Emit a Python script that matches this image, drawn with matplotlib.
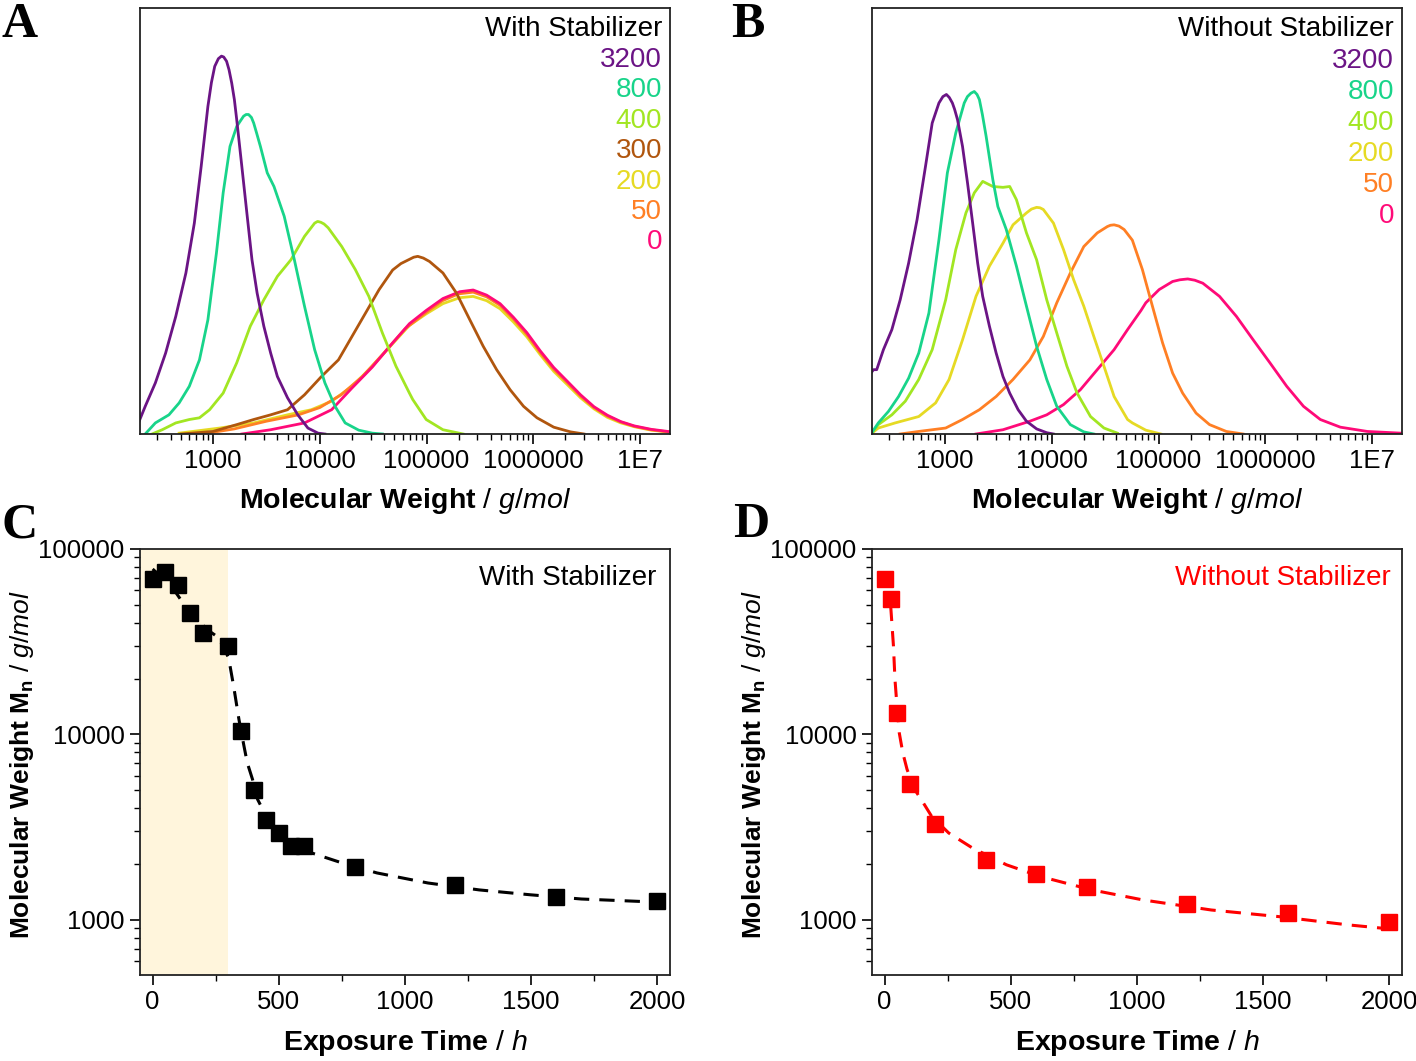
import numpy as np
import matplotlib
matplotlib.use("Agg")
import matplotlib.pyplot as plt
from matplotlib.ticker import FixedLocator, FixedFormatter, LogLocator, NullFormatter, MultipleLocator

plt.rcParams['font.family'] = ['Liberation Sans', 'DejaVu Sans']
plt.rcParams['mathtext.fontset'] = 'custom'
plt.rcParams['mathtext.rm'] = 'Liberation Sans'
plt.rcParams['mathtext.it'] = 'Liberation Sans:italic'
plt.rcParams['mathtext.bf'] = 'Liberation Sans:bold'

# colours for the exposure times (h)
C_3200 = "#6B1485"
C_800 = "#18D48A"
C_400 = "#A2E622"
C_300 = "#B0560E"
C_200 = "#E6DA24"
C_50 = "#FF7F24"
C_0 = "#FF0A78"

# ---- A: GPC traces with stabilizer (log10 M, normalised height) ----
a3200_logm = [2.295, 2.365, 2.46, 2.556, 2.651, 2.746, 2.825, 2.889, 2.952, 2.985, 3.016, 3.05, 3.079, 3.10,
              3.127, 3.15, 3.175, 3.2, 3.222, 3.27, 3.317, 3.365, 3.413, 3.476, 3.54, 3.603, 3.698, 3.794,
              3.889, 3.984, 4.048]
a3200_h = [0.022, 0.065, 0.12, 0.19, 0.276, 0.378, 0.495, 0.628, 0.769, 0.825, 0.863, 0.881, 0.887, 0.885,
           0.875, 0.855, 0.824, 0.785, 0.738, 0.628, 0.519, 0.409, 0.331, 0.253, 0.19, 0.135, 0.085, 0.045,
           0.014, 0.002, 0.0]

a800_logm = [2.365, 2.46, 2.587, 2.683, 2.778, 2.873, 2.952, 3.032, 3.095, 3.159, 3.222, 3.286, 3.31, 3.333,
             3.36, 3.381, 3.41, 3.444, 3.508, 3.571, 3.667, 3.762, 3.857, 3.952, 4.048, 4.143, 4.238, 4.365,
             4.492, 4.587]
a800_h = [0.0, 0.026, 0.045, 0.073, 0.112, 0.174, 0.268, 0.425, 0.566, 0.675, 0.722, 0.746, 0.750, 0.75,
          0.743, 0.73, 0.705, 0.675, 0.613, 0.581, 0.511, 0.409, 0.3, 0.198, 0.12, 0.065, 0.026, 0.009,
          0.002, 0.0]

a400_logm = [2.429, 2.524, 2.651, 2.778, 2.873, 2.968, 3.095, 3.222, 3.349, 3.476, 3.603, 3.73, 3.857,
             3.952, 3.98, 4.01, 4.04, 4.079, 4.206, 4.333, 4.46, 4.587, 4.714, 4.84, 4.871, 4.997, 5.154, 5.343]
a400_h = [0.0, 0.01, 0.026, 0.034, 0.038, 0.057, 0.096, 0.167, 0.253, 0.315, 0.37, 0.409, 0.464,
          0.495, 0.499, 0.497, 0.493, 0.484, 0.44, 0.386, 0.323, 0.237, 0.159, 0.096, 0.081, 0.034, 0.01, 0.0]

a300_logm = [2.7, 3.0, 3.222, 3.381, 3.54, 3.698, 3.857, 4.016, 4.175, 4.302, 4.429, 4.556, 4.683, 4.76,
             4.84, 4.88, 4.918, 4.97, 5.028, 5.154, 5.28, 5.406, 5.531, 5.657, 5.783, 5.909, 6.035, 6.192,
             6.349, 6.475]
a300_h = [0.0, 0.006, 0.022, 0.034, 0.045, 0.057, 0.092, 0.135, 0.174, 0.229, 0.284, 0.339, 0.385, 0.40,
          0.41, 0.415, 0.417, 0.413, 0.405, 0.378, 0.331, 0.268, 0.206, 0.151, 0.104, 0.065, 0.038, 0.016,
          0.005, 0.0]

a200_logm = [2.683, 3.063, 3.381, 3.698, 3.921, 4.111, 4.302, 4.492, 4.683, 4.84, 4.997, 5.154, 5.311,
             5.437, 5.563, 5.689, 5.814, 5.94, 6.066, 6.192, 6.318, 6.443, 6.569, 6.695, 6.821, 6.947, 7.104, 7.292]
a200_h = [0.002, 0.014, 0.026, 0.045, 0.057, 0.077, 0.112, 0.159, 0.212, 0.255, 0.282, 0.306, 0.32,
          0.323, 0.313, 0.294, 0.263, 0.228, 0.186, 0.147, 0.116, 0.085, 0.059, 0.039, 0.026, 0.017, 0.009, 0.004]

a50_logm = [2.9, 3.2, 3.5, 3.8, 4.0, 4.2, 4.4, 4.6, 4.8, 5.0, 5.15, 5.3, 5.437, 5.563, 5.689, 5.814,
            5.94, 6.066, 6.192, 6.318, 6.443, 6.569, 6.695, 6.821, 6.947, 7.104, 7.292]
a50_h = [0.0, 0.012, 0.03, 0.045, 0.062, 0.092, 0.135, 0.19, 0.247, 0.286, 0.313, 0.329, 0.333, 0.322,
         0.302, 0.27, 0.234, 0.191, 0.152, 0.121, 0.089, 0.062, 0.042, 0.028, 0.018, 0.01, 0.004]

a0_logm = [3.27, 3.54, 3.857, 4.111, 4.302, 4.492, 4.683, 4.84, 4.997, 5.154, 5.311, 5.437, 5.563, 5.689,
           5.814, 5.94, 6.066, 6.192, 6.318, 6.443, 6.569, 6.695, 6.821, 6.947, 7.104, 7.292]
a0_h = [0.0, 0.01, 0.026, 0.057, 0.108, 0.157, 0.214, 0.259, 0.29, 0.318, 0.334, 0.338, 0.326, 0.306,
        0.274, 0.238, 0.195, 0.156, 0.124, 0.092, 0.064, 0.044, 0.029, 0.019, 0.011, 0.005]

# ---- B: GPC traces without stabilizer ----
b3200_logm = [2.306, 2.33, 2.36, 2.423, 2.502, 2.58, 2.659, 2.738, 2.817, 2.88, 2.943, 2.98, 3.013, 3.04,
              3.069, 3.09, 3.117, 3.164, 3.211, 3.259, 3.306, 3.353, 3.416, 3.479, 3.543, 3.606, 3.685,
              3.763, 3.858, 3.953, 4.016]
b3200_h = [0.143, 0.151, 0.151, 0.198, 0.245, 0.315, 0.401, 0.503, 0.628, 0.73, 0.777, 0.792, 0.797, 0.790,
           0.777, 0.762, 0.738, 0.675, 0.589, 0.495, 0.401, 0.323, 0.253, 0.19, 0.135, 0.096, 0.057,
           0.03, 0.012, 0.003, 0.0]

b800_logm = [2.306, 2.375, 2.47, 2.565, 2.659, 2.754, 2.849, 2.943, 3.022, 3.101, 3.18, 3.21, 3.243, 3.274,
             3.30, 3.322, 3.35, 3.385, 3.448, 3.495, 3.574, 3.669, 3.763, 3.858, 3.953, 4.047, 4.174, 4.3, 4.394]
b800_h = [0.0, 0.026, 0.053, 0.088, 0.131, 0.19, 0.284, 0.456, 0.613, 0.707, 0.777, 0.792, 0.80, 0.804,
          0.797, 0.785, 0.750, 0.699, 0.597, 0.534, 0.48, 0.394, 0.3, 0.206, 0.128, 0.065, 0.022, 0.005, 0.0]

b400_logm = [2.306, 2.375, 2.502, 2.628, 2.754, 2.88, 3.006, 3.101, 3.196, 3.274, 3.353, 3.448, 3.543, 3.606,
             3.669, 3.763, 3.858, 3.953, 4.047, 4.142, 4.237, 4.363, 4.489, 4.615]
b400_h = [0.0, 0.022, 0.045, 0.077, 0.128, 0.198, 0.315, 0.433, 0.519, 0.566, 0.593, 0.581, 0.579, 0.581,
          0.55, 0.472, 0.409, 0.315, 0.237, 0.159, 0.096, 0.041, 0.014, 0.002]

b200_logm = [2.306, 2.375, 2.533, 2.754, 2.912, 3.038, 3.164, 3.29, 3.416, 3.543, 3.637, 3.763, 3.81, 3.858,
             3.89, 3.921, 4.016, 4.11, 4.205, 4.3, 4.394, 4.489, 4.584, 4.71, 4.755, 4.881, 5.022]
b200_h = [0.0, 0.014, 0.026, 0.041, 0.073, 0.128, 0.221, 0.323, 0.394, 0.448, 0.491, 0.519, 0.528, 0.532,
          0.531, 0.527, 0.495, 0.433, 0.362, 0.3, 0.229, 0.159, 0.088, 0.034, 0.026, 0.009, 0.0]

b50_logm = [2.58, 2.754, 3.006, 3.164, 3.322, 3.479, 3.637, 3.795, 3.921, 4.047, 4.174, 4.3, 4.426, 4.521,
            4.55, 4.584, 4.63, 4.678, 4.755, 4.849, 4.943, 5.038, 5.132, 5.226, 5.352, 5.478, 5.635, 5.792]
b50_h = [0.0, 0.006, 0.014, 0.034, 0.057, 0.088, 0.128, 0.174, 0.229, 0.308, 0.378, 0.44, 0.472, 0.487,
         0.490, 0.491, 0.488, 0.48, 0.455, 0.386, 0.3, 0.214, 0.143, 0.096, 0.049, 0.022, 0.006, 0.0]

b0_logm = [3.29, 3.543, 3.795, 3.953, 4.11, 4.268, 4.426, 4.584, 4.71, 4.836, 4.881, 5.006, 5.132, 5.2,
           5.274, 5.34, 5.415, 5.572, 5.73, 5.887, 6.044, 6.201, 6.358, 6.516, 6.704, 6.956, 7.27]
b0_h = [0.0, 0.01, 0.03, 0.045, 0.069, 0.104, 0.151, 0.198, 0.245, 0.29, 0.308, 0.339, 0.358, 0.362,
        0.364, 0.361, 0.354, 0.323, 0.276, 0.221, 0.167, 0.112, 0.065, 0.034, 0.016, 0.006, 0.002]

# ---- C / D: number-average molecular weight vs exposure time ----
c_time = [0, 50, 100, 150, 200, 300, 350, 400, 450, 500, 550, 600, 800, 1200, 1600, 2000]
c_mn = [68900, 74800, 63800, 44900, 35200, 30000, 10400, 5000, 3470, 2940, 2510, 2490, 1930, 1550, 1320, 1270]
c_fit_time = [0, 78, 119, 213, 261, 301, 321, 342, 362, 375, 396, 416, 443, 511, 632, 754, 889,
              1091, 1294, 1496, 1699, 1942, 2003]
c_fit_mn = [78000, 62100, 51500, 37000, 33300, 25900, 18200, 12050, 8650, 7030, 5710, 4460, 3780, 2820,
            2290, 2020, 1790, 1580, 1450, 1365, 1295, 1255, 1250]

d_time = [0, 25, 50, 100, 200, 400, 600, 800, 1200, 1600, 2000]
d_mn = [69300, 53700, 13000, 5370, 3300, 2110, 1770, 1510, 1220, 1095, 975]
d_fit_time = [24, 35, 41, 49, 58, 72, 89, 119, 153, 186, 254, 348, 483, 619, 821, 1024, 1294, 1564, 1834, 2050]
d_fit_mn = [49400, 30000, 19800, 14200, 10200, 7960, 6470, 5050, 4280, 3620, 2940, 2440, 1980, 1710,
            1450, 1280, 1130, 1040, 940, 880]

stab_window = (-50, 300)

fig = plt.figure(figsize=(14.16, 10.61), dpi=100)
W, H = 1416, 1061


def box(x0, y_top, w=530, h=426):
    return [x0 / W, (H - y_top - h) / H, w / W, h / H]


ax_a = fig.add_axes(box(140, 8))
ax_b = fig.add_axes(box(872, 8))
ax_c = fig.add_axes(box(140, 549))
ax_d = fig.add_axes(box(872, 549))

mw_label = r"$\mathbf{Molecular\ Weight}$ / $\mathit{g/mol}$"
mn_label = r"$\mathbf{Molecular\ Weight\ M_n}$ / $\mathit{g/mol}$"
time_label = r"$\mathbf{Exposure\ Time}$ / $\mathit{h}$"

LABEL_FS = 20.5
YLABEL_FS = 19
TICK_FS = 18.5
NOTE_FS = 20

for ax in (ax_a, ax_b, ax_c, ax_d):
    for s in ax.spines.values():
        s.set_linewidth(1.3)
        s.set_color("#222222")

# GPC panels
gpc_a = [(a200_logm, a200_h, C_200), (a50_logm, a50_h, C_50), (a0_logm, a0_h, C_0),
         (a300_logm, a300_h, C_300), (a400_logm, a400_h, C_400),
         (a800_logm, a800_h, C_800), (a3200_logm, a3200_h, C_3200)]
gpc_b = [(b0_logm, b0_h, C_0), (b50_logm, b50_h, C_50), (b200_logm, b200_h, C_200),
         (b400_logm, b400_h, C_400), (b800_logm, b800_h, C_800), (b3200_logm, b3200_h, C_3200)]

for ax, curves in ((ax_a, gpc_a), (ax_b, gpc_b)):
    for lm, h, col in curves:
        ax.plot(10 ** np.array(lm), h, color=col, lw=2.0, solid_joinstyle="round")
    ax.set_xscale("log")
    ax.set_xlim(207, 1.91e7)
    ax.set_ylim(0, 1)
    ax.set_yticks([])
    ax.xaxis.set_major_locator(FixedLocator([1e3, 1e4, 1e5, 1e6, 1e7]))
    ax.xaxis.set_major_formatter(FixedFormatter(["1000", "10000", "100000", "1000000", "1E7"]))
    ax.xaxis.set_minor_locator(LogLocator(base=10, subs=np.arange(2, 10)))
    ax.xaxis.set_minor_formatter(NullFormatter())
    ax.tick_params(axis="x", which="major", length=7, width=1.2, labelsize=TICK_FS, pad=4)
    ax.tick_params(axis="x", which="minor", length=4, width=1.0)
    ax.set_xlabel(mw_label, fontsize=LABEL_FS)
    ax.xaxis.set_label_coords(0.5, -0.158)
    ax.xaxis.label.set_va("center")

legend_a = [("3200", C_3200), ("800", C_800), ("400", C_400), ("300", C_300),
            ("200", C_200), ("50", C_50), ("0", C_0)]
legend_b = [("3200", C_3200), ("800", C_800), ("400", C_400), ("200", C_200),
            ("50", C_50), ("0", C_0)]

ax_a.text(0.985, 0.951, "With Stabilizer", transform=ax_a.transAxes, ha="right", va="center", fontsize=NOTE_FS)
for i, (lab, col) in enumerate(legend_a):
    ax_a.text(0.985, 0.878 - i * 0.0714, lab, transform=ax_a.transAxes, ha="right", va="center",
              fontsize=NOTE_FS, color=col)

ax_b.text(0.985, 0.951, "Without Stabilizer", transform=ax_b.transAxes, ha="right", va="center",
          fontsize=NOTE_FS)
for i, (lab, col) in enumerate(legend_b):
    ax_b.text(0.985, 0.876 - i * 0.0728, lab, transform=ax_b.transAxes, ha="right", va="center",
              fontsize=NOTE_FS, color=col)

# Mn panels
ax_c.axvspan(*stab_window, color="#FFF5DC", lw=0, zorder=0)
ax_c.plot(c_fit_time, c_fit_mn, color="black", lw=2.2, dashes=(5, 3.3), zorder=2)
ax_c.plot(c_time, c_mn, "s", color="black", ms=12, zorder=3)
ax_c.text(0.975, 0.932, "With Stabilizer", transform=ax_c.transAxes, ha="right", va="center", fontsize=NOTE_FS)

ax_d.plot(d_fit_time, d_fit_mn, color="#FF0000", lw=2.2, dashes=(5, 3.3), zorder=2)
ax_d.plot(d_time, d_mn, "s", color="#FF0000", ms=12, zorder=3)
ax_d.text(0.979, 0.932, "Without Stabilizer", transform=ax_d.transAxes, ha="right", va="center",
          fontsize=NOTE_FS, color="#FF0000")

for ax in (ax_c, ax_d):
    ax.set_yscale("log")
    ax.set_ylim(504, 100000)
    ax.set_xlim(-50, 2050)
    ax.yaxis.set_major_locator(FixedLocator([1000, 10000, 100000]))
    ax.yaxis.set_major_formatter(FixedFormatter(["1000", "10000", "100000"]))
    ax.yaxis.set_minor_locator(LogLocator(base=10, subs=np.arange(2, 10)))
    ax.yaxis.set_minor_formatter(NullFormatter())
    ax.xaxis.set_major_locator(MultipleLocator(500))
    ax.xaxis.set_minor_locator(MultipleLocator(250))
    ax.tick_params(which="major", length=7, width=1.2, labelsize=TICK_FS, pad=4)
    ax.tick_params(which="minor", length=4, width=1.0)
    ax.set_xlabel(time_label, fontsize=LABEL_FS)
    ax.xaxis.set_label_coords(0.5, -0.16)
    ax.xaxis.label.set_va("center")
    ax.set_ylabel(mn_label, fontsize=YLABEL_FS)
    ax.yaxis.set_label_coords(-0.222, 0.495)
    ax.yaxis.label.set_va("center")

for letter, x, y in (("A", 1, 37), ("B", 731, 37), ("C", 1, 537), ("D", 733, 537)):
    fig.text(x / W, 1 - y / H, letter, family="Liberation Serif", fontweight="bold", fontsize=36,
             ha="left", va="baseline")

fig.savefig("out.png", dpi=100)
